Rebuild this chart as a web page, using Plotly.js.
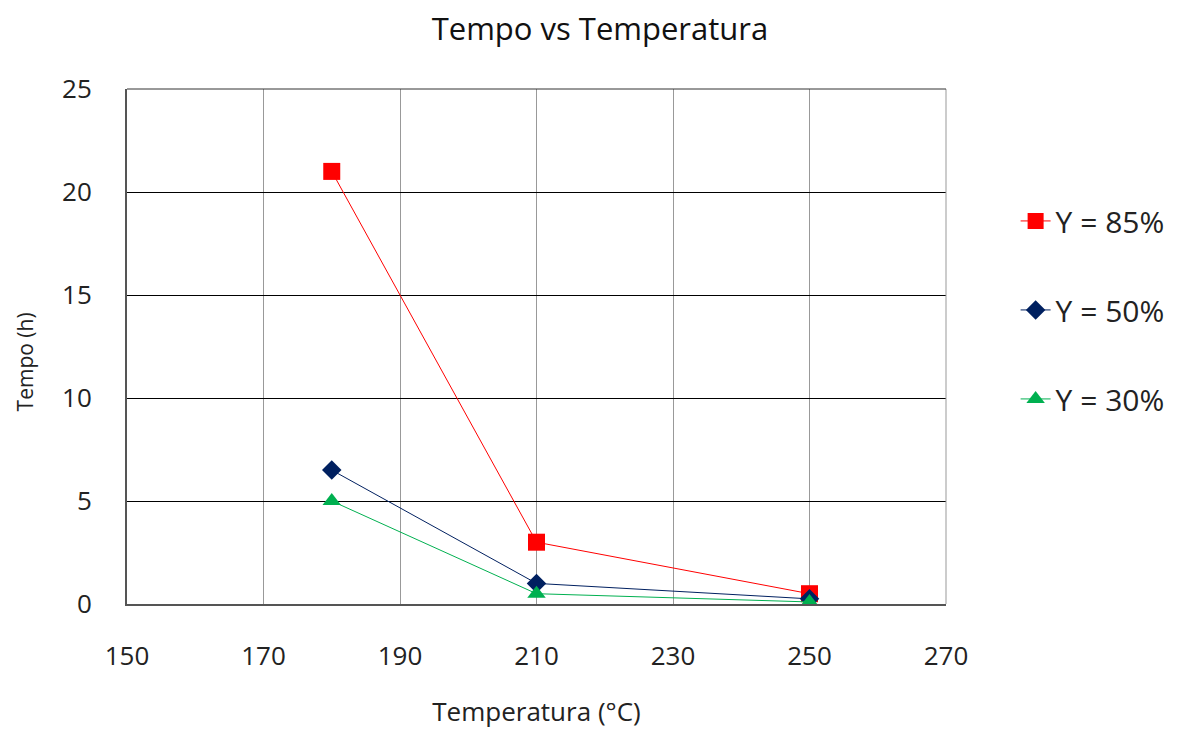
<!DOCTYPE html>
<html>
<head>
<meta charset="utf-8">
<script src="https://cdn.plot.ly/plotly-3.0.1.min.js"></script>
<style>html,body{margin:0;padding:0;background:#fff;}#chart{width:1181px;height:729px;}</style>
</head>
<body>
<div id="chart"></div>
<script>
const temperatures = [180, 210, 250];
const tempo85 = [21, 3, 0.5];
const tempo50 = [6.5, 1, 0.25];
const tempo30 = [5, 0.5, 0.1];
const seriesNames = ["Y = 85%", "Y = 50%", "Y = 30%"];
const xTicks = [150, 170, 190, 210, 230, 250, 270];
const yTicks = [0, 5, 10, 15, 20, 25];

const font = "Open Sans, Noto Sans, sans-serif";
const traces = [
  {x: temperatures, y: tempo85, name: seriesNames[0], legendgroup: "g85", mode: "lines+markers",
   line: {color: "#ff0000", width: 1}, marker: {symbol: "square", size: 17, color: "#ff0000"}},
  {x: temperatures, y: tempo50, name: seriesNames[1], legendgroup: "g50", mode: "lines+markers",
   line: {color: "#002060", width: 1}, marker: {symbol: "diamond", size: 15, color: "#002060"}},
  {x: temperatures, y: tempo30, name: seriesNames[2], legendgroup: "g30", mode: "lines+markers",
   line: {color: "#00b050", width: 1}, marker: {symbol: "triangle-up", size: 16, color: "#00b050"}}
];
const layout = {
  width: 1181, height: 729,
  paper_bgcolor: "#fff", plot_bgcolor: "#fff",
  margin: {l: 127, r: 235, t: 89, b: 125, autoexpand: false},
  font: {family: font, color: "#222"},
  title: {text: "Tempo vs Temperatura", x: 0.508, xanchor: "center", y: 0.96, yanchor: "middle",
          xref: "container", font: {size: 31, family: font, color: "#111"}},
  xaxis: {range: [150, 270], tickvals: xTicks, ticktext: xTicks.map(String),
          showgrid: true, gridcolor: "#999", gridwidth: 1,
          showline: true, linecolor: "#555", linewidth: 2, mirror: false,
          zeroline: false, ticks: "", ticklabelstandoff: 28,
          tickfont: {size: 26, family: font, color: "#222"},
          title: {text: "Temperatura (°C)", standoff: 32, font: {size: 26, family: font, color: "#222"}}},
  yaxis: {range: [0, 25], tickvals: yTicks, ticktext: yTicks.map(String),
          showgrid: true, gridcolor: "#000", gridwidth: 1,
          showline: true, linecolor: "#555", linewidth: 2,
          zeroline: false, ticks: "", ticklabelstandoff: 28,
          tickfont: {size: 26, family: font, color: "#222"}},
  annotations: [
    {text: "Tempo (h)", xref: "paper", yref: "paper", x: -0.124, y: 0.47, xanchor: "center", yanchor: "middle",
     textangle: -90, showarrow: false, font: {size: 21, family: font, color: "#222"}}
  ],
  legend: {x: 1.085, xanchor: "left", y: 0.571, yanchor: "middle",
           font: {size: 30, family: font, color: "#222"}, tracegroupgap: 47,
           bgcolor: "rgba(0,0,0,0)"},
  shapes: [
    {type: "line", xref: "paper", yref: "paper", x0: 1, x1: 1, y0: 0, y1: 1, line: {color: "#999", width: 1}},
    {type: "line", xref: "paper", yref: "paper", x0: 0, x1: 1, y0: 1, y1: 1, line: {color: "#333", width: 1}}
  ],
  showlegend: true
};
Plotly.newPlot("chart", traces, layout, {displayModeBar: false, staticPlot: true});
</script>
</body>
</html>
